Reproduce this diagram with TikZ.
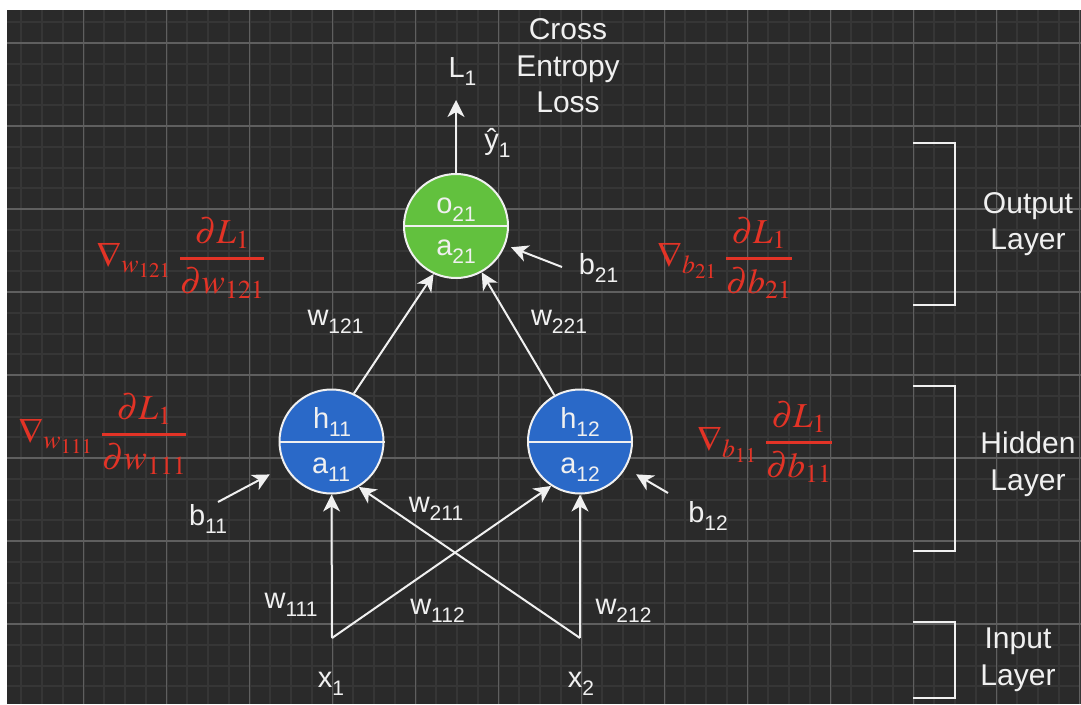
\documentclass[tikz,border=0pt]{standalone}
\usepackage{amsmath}
\usepackage{mathptmx}
\usepackage[no-math]{fontspec}
\setmainfont{Liberation Sans}
\usetikzlibrary{arrows.meta}
\definecolor{bg}{HTML}{2A2A2A}
\definecolor{minorc}{HTML}{363636}
\definecolor{majorc}{HTML}{5F5F5F}
\definecolor{nodeblue}{HTML}{2A69C8}
\definecolor{nodegreen}{HTML}{62C13E}
\definecolor{gradred}{HTML}{E33326}
\definecolor{fg}{HTML}{F0F0F0}
\newcommand{\lsub}[1]{\raisebox{-8pt}{\fontsize{21}{21}\selectfont #1}}
\newcommand{\gfrac}[2]{\genfrac{}{}{2.4pt}{0}{#1}{#2}}
\tikzset{
  minorline/.style={draw=minorc, line width=2pt},
  majorline/.style={draw=majorc, line width=1.2pt},
  neuron/.style={circle, draw=fg, line width=2pt, minimum size=104pt, inner sep=0pt},
  divider/.style={draw=fg, line width=2pt},
  lbl/.style={text=fg, font=\fontsize{29}{34}\selectfont, inner sep=0pt, anchor=base},
  biglbl/.style={text=fg, font=\fontsize{30}{36.5}\selectfont, inner sep=0pt, align=center},
  grad/.style={text=gradred, font=\fontsize{35}{42}\selectfont, inner sep=0pt},
  arr/.style={draw=fg, line width=2pt, -{Stealth[length=17pt,width=17pt,inset=5pt]}},
  bracketline/.style={draw=fg, line width=2pt},
}
\begin{document}
\begin{tikzpicture}[x=1pt,y=-1pt]
\useasboundingbox (0,0) rectangle (1081,704);
\fill[white] (0,0) rectangle (1081,704);
\fill[bg] (7,10) rectangle (1081,704);
\begin{scope}
\clip (7,10) rectangle (1081,704);
\foreach \k in {1,...,52} {
  \pgfmathsetmacro\xx{0.5+20.75*\k}
  \draw[minorline] (\xx,10) -- (\xx,704);
}
\foreach \k in {0,...,34} {
  \pgfmathsetmacro\yy{1.5+20.75*\k}
  \draw[minorline] (7,\yy) -- (1081,\yy);
}
\foreach \m in {1,...,13} {
  \pgfmathsetmacro\xx{0.5+83*\m}
  \draw[majorline] (\xx,10) -- (\xx,704);
}
\foreach \m in {0,...,8} {
  \pgfmathsetmacro\yy{43+83*\m}
  \draw[majorline] (7,\yy) -- (1081,\yy);
}
\end{scope}

% neurons
\node[neuron, fill=nodegreen] (o21) at (456,226) {};
\node[neuron, fill=nodeblue] (h11) at (331.5,441.5) {};
\node[neuron, fill=nodeblue] (h12) at (580,441.5) {};
\draw[divider] (o21.west) -- (o21.east);
\draw[divider] (h11.west) -- (h11.east);
\draw[divider] (h12.west) -- (h12.east);
\node[lbl] (o21t) at (456,213) {o\lsub{21}};
\node[lbl] (a21t) at (456,255) {a\lsub{21}};
\node[lbl] (h11t) at (332,428) {h\lsub{11}};
\node[lbl] (a11t) at (331,473) {a\lsub{11}};
\node[lbl] (h12t) at (580,428) {h\lsub{12}};
\node[lbl] (a12t) at (580,473) {a\lsub{12}};

% inputs and other labels
\coordinate (x1top) at (332,638);
\coordinate (x2top) at (580,638);
\coordinate (b11tail) at (218,502);
\coordinate (b12tail) at (668,493);
\coordinate (b21tail) at (562,267);
\coordinate (Ltip) at (456,100);

\node[lbl] (x1) at (331,687) {x\lsub{1}};
\node[lbl] (x2) at (581,687) {x\lsub{2}};
\node[lbl] (w111) at (291,608) {w\lsub{111}};
\node[lbl] (w112) at (437.5,614) {w\lsub{112}};
\node[lbl] (w211) at (436,512) {w\lsub{211}};
\node[lbl] (w212) at (623.5,614) {w\lsub{212}};
\node[lbl] (w121) at (335.5,325) {w\lsub{121}};
\node[lbl] (w221) at (559,325) {w\lsub{221}};
\node[lbl] (b11) at (208,525) {b\lsub{11}};
\node[lbl] (b12) at (708,522) {b\lsub{12}};
\node[lbl] (b21) at (598.5,274) {b\lsub{21}};
\node[lbl] (L1) at (462.5,77) {L\lsub{1}};
\node[lbl] (yhat) at (497.5,149) {ŷ\lsub{1}};
\node[biglbl] (cel) at (568,66) {Cross\\Entropy\\Loss};

% connectors
\draw[arr] (x1top) -- (h11.south);
\draw[arr] (x1top) -- (h12.237.4);
\draw[arr] (x2top) -- (h11.301.5);
\draw[arr] (x2top) -- (h12.south);
\draw[arr] (h11.65.5) -- (o21.245);
\draw[arr] (h12.119.5) -- (o21.299);
\draw[arr] (o21.north) -- (Ltip);
\draw[arr, shorten >=17pt] (b11tail) -- (h11);
\draw[arr, shorten >=12pt] (b12tail) -- (h12);
\draw[arr, shorten >=6pt] (b21tail) -- (o21);

% gradients
\node[grad] (gw121) at (181,258) {$\nabla_{w_{121}}\;\gfrac{\partial L_1}{\partial w_{121}}$};
\node[grad] (gw111) at (103,434) {$\nabla_{w_{111}}\;\gfrac{\partial L_1}{\partial w_{111}}$};
\node[grad] (gb21) at (725,258) {$\nabla_{b_{21}}\;\gfrac{\partial L_1}{\partial b_{21}}$};
\node[grad] (gb11) at (765,442) {$\nabla_{b_{11}}\;\gfrac{\partial L_1}{\partial b_{11}}$};

% layer brackets
\draw[bracketline] (913,143) -- (955,143) -- (955,305) -- (913,305);
\draw[bracketline] (913,386) -- (955,386) -- (955,551) -- (913,551);
\draw[bracketline] (913,622) -- (955,622) -- (955,698) -- (913,698);
\node[biglbl] (outl) at (1028,224) {Output\\Layer};
\node[biglbl] (hidl) at (1028,464) {Hidden\\Layer};
\node[biglbl] (inl) at (1018,660) {Input\\Layer};
\end{tikzpicture}
\end{document}
